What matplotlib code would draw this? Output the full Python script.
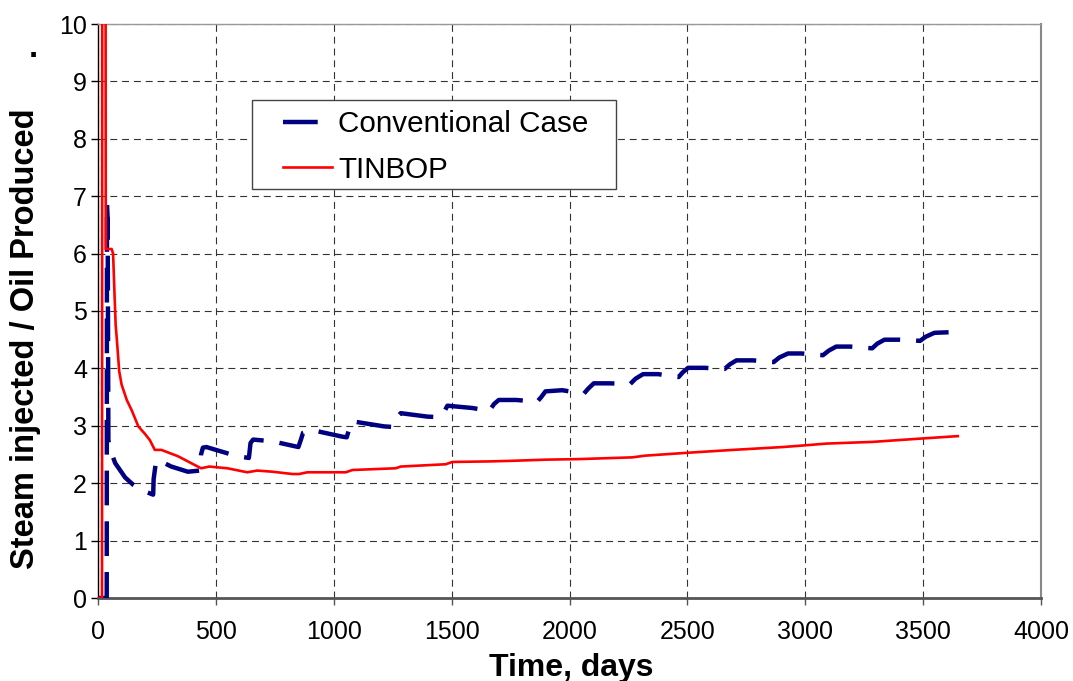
import matplotlib
matplotlib.use('Agg')
import matplotlib.pyplot as plt
from matplotlib.patches import Rectangle

plt.rcParams['font.family'] = ['Liberation Sans', 'DejaVu Sans']
plt.rcParams['lines.scale_dashes'] = False

# Conventional case: steam/oil ratio over time (cyclic steps)
conv_days = [0, 37, 38, 41, 44, 52, 73, 115, 150, 185, 234, 236, 245, 252, 311, 381,
             432, 437, 445, 460, 500, 591, 640, 647, 658, 740, 850, 860, 870, 903,
             1037, 1055, 1068, 1076, 1213, 1250, 1263, 1284, 1397, 1450, 1463, 1482,
             1588, 1660, 1680, 1700, 1774, 1863, 1880, 1898, 1969, 2061, 2080, 2103,
             2167, 2258, 2280, 2312, 2376, 2463, 2480, 2503, 2573, 2658, 2680, 2708,
             2778, 2866, 2890, 2927, 2983, 3075, 3100, 3131, 3191, 3284, 3305, 3336,
             3400, 3487, 3510, 3548, 3612]
conv_ratio = [0, 0, 6.88, 6.6, 2.75, 2.58, 2.35, 2.10, 1.97, 1.88, 1.80, 2.07, 2.35, 2.41, 2.29, 2.20,
              2.22, 2.50, 2.62, 2.63, 2.58, 2.47, 2.44, 2.70, 2.76, 2.73, 2.63, 2.75, 2.88, 2.93,
              2.81, 2.80, 2.98, 3.08, 2.99, 2.98, 3.13, 3.22, 3.16, 3.15, 3.20, 3.35,
              3.31, 3.26, 3.38, 3.45, 3.45, 3.42, 3.50, 3.60, 3.62, 3.56, 3.65, 3.74,
              3.74, 3.73, 3.82, 3.90, 3.90, 3.85, 3.93, 4.01, 4.01, 3.99, 4.07, 4.14,
              4.14, 4.11, 4.19, 4.26, 4.26, 4.23, 4.31, 4.38, 4.38, 4.35, 4.43, 4.50,
              4.50, 4.48, 4.55, 4.62, 4.63]

# TINBOP case
tinbop_days = [0, 17, 18, 32, 33, 58, 64, 70, 75, 80, 90, 100, 122, 143, 171, 199, 220,
               241, 269, 339, 437, 472, 549, 633, 675, 740, 825, 853, 888, 1051, 1079,
               1263, 1284, 1475, 1503, 1665, 1757, 1898, 2040, 2266, 2322, 2500, 2693,
               2905, 3000, 3089, 3287, 3499, 3647]
tinbop_ratio = [0, 0, 12.0, 12.0, 6.08, 6.08, 6.0, 5.3, 4.75, 4.5, 3.95, 3.72, 3.45, 3.27, 2.99, 2.86, 2.75,
                2.58, 2.58, 2.47, 2.26, 2.29, 2.26, 2.19, 2.22, 2.20, 2.16, 2.16, 2.19, 2.19, 2.23,
                2.26, 2.29, 2.33, 2.37, 2.38, 2.39, 2.41, 2.42, 2.45, 2.48, 2.53, 2.58,
                2.63, 2.66, 2.69, 2.72, 2.78, 2.82]

x_ticks = [0, 500, 1000, 1500, 2000, 2500, 3000, 3500, 4000]
y_ticks = [0, 1, 2, 3, 4, 5, 6, 7, 8, 9, 10]

W, H = 1073, 681
AX_L, AX_R, AX_T, AX_B = 98, 1041, 24, 598
fig = plt.figure(figsize=(W / 100, H / 100), dpi=100)
ax = fig.add_axes([AX_L / W, 1 - AX_B / H, (AX_R - AX_L) / W, (AX_B - AX_T) / H])


def px_to_axes(px, py):
    return (px - AX_L) / (AX_R - AX_L), (AX_B - py) / (AX_B - AX_T)


ax.plot(conv_days, conv_ratio, color='#000080', lw=3.2, dashes=(25, 11.5),
        dash_capstyle='butt', label='Conventional Case', zorder=3)
ax.plot(tinbop_days, tinbop_ratio, color='#ff0000', lw=1.9,
        label='TINBOP', zorder=4)

ax.set_xlim(0, 4000)
ax.set_ylim(0, 10)
ax.set_xticks(x_ticks)
ax.set_yticks(y_ticks)
ax.grid(True, color='#333333', linestyle=(0, (5, 3.5)), linewidth=0.8, zorder=1)
ax.set_axisbelow(True)

ax.spines['left'].set_color('black')
ax.spines['left'].set_linewidth(1.0)
ax.spines['bottom'].set_color('#555555')
ax.spines['bottom'].set_linewidth(2.0)
ax.spines['right'].set_color('#888888')
ax.spines['right'].set_linewidth(1.5)
ax.spines['top'].set_color('#999999')
ax.spines['top'].set_linewidth(1.0)

ax.tick_params(axis='x', direction='out', length=5, width=1, color='#555555',
               labelsize=18, pad=11)
ax.tick_params(axis='y', direction='out', length=5, width=1, color='black',
               labelsize=18, pad=3)

fig.text(571 / W, 1 - 676 / H, 'Time, days', fontsize=23, fontweight='bold',
         ha='center', va='baseline')
fig.text(26 / W, 1 - 339 / H, 'Steam injected / Oil Produced', fontsize=23.5,
         fontweight='bold', rotation=90, ha='center', va='center')
fig.text(33 / W, 1 - 57 / H, '.', fontsize=23.5, fontweight='bold',
         ha='center', va='baseline')

# legend box drawn separately so its padding can be wider than tall
x0, y0 = px_to_axes(252, 189)
x1, y1 = px_to_axes(616, 100)
ax.add_patch(Rectangle((x0, y0), x1 - x0, y1 - y0, transform=ax.transAxes,
                       facecolor='white', edgecolor='#444444', lw=1.0, zorder=5))
leg = ax.legend(loc='upper left', bbox_to_anchor=px_to_axes(283, 110),
                borderaxespad=0, borderpad=0, fontsize=21.3, frameon=False,
                handlelength=1.66, handletextpad=0.2, labelspacing=0.6)
leg.set_zorder(6)

fig.savefig('out.png', dpi=100)
